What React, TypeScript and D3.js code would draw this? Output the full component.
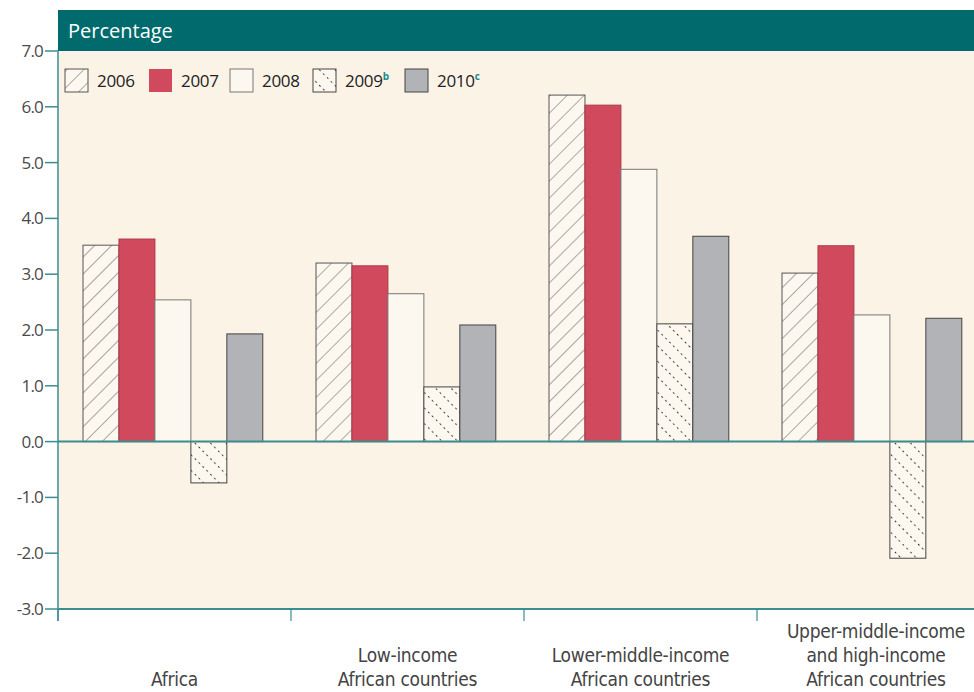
import React, { useEffect, useRef } from "react";
import * as d3 from "d3";

const categories = [
  ["Africa"],
  ["Low-income", "African countries"],
  ["Lower-middle-income", "African countries"],
  ["Upper-middle-income", "and high-income", "African countries"],
];
const years = ["2006", "2007", "2008", "2009", "2010"];
const yearSup = ["", "", "", "b", "c"];
const v2006 = [3.52, 3.2, 6.21, 3.02];
const v2007 = [3.63, 3.15, 6.03, 3.51];
const v2008 = [2.54, 2.65, 4.88, 2.27];
const v2009 = [-0.74, 0.98, 2.11, -2.09];
const v2010 = [1.93, 2.09, 3.68, 2.21];
const series = [v2006, v2007, v2008, v2009, v2010];
const yTicks = [7, 6, 5, 4, 3, 2, 1, 0, -1, -2, -3];

const fills = ["url(#hatch)", "#d0495c", "#fdf8ef", "url(#dots)", "#b2b3b7"];
const strokes = ["#555", "#b03848", "#777", "#444", "#444"];

const App = () => {
  const ref = useRef<SVGSVGElement>(null);

  useEffect(() => {
    const svg = d3.select(ref.current);
    svg.selectAll("*").remove();

    const left = 58, right = 974, top = 51, bottom = 609;
    const bg = "#fbf3e6";
    const teal = "#006a6d";
    const axisCol = "#3b8e90";

    const y = d3.scaleLinear().domain([-3, 7]).range([bottom, top]);
    const x0 = d3.scaleBand<number>().domain([0, 1, 2, 3]).range([left, left + 233 * 4]);
    const x1 = d3.scaleBand<string>().domain(years).range([0, x0.bandwidth()])
      .paddingInner(0).paddingOuter(0.74).align(0.47);

    // patterns
    const defs = svg.append("defs");
    const hatch = defs.append("pattern").attr("id", "hatch").attr("patternUnits", "userSpaceOnUse")
      .attr("width", 12).attr("height", 12).attr("patternTransform", "rotate(45)");
    hatch.append("rect").attr("width", 12).attr("height", 12).attr("fill", "#fdf8ef");
    hatch.append("line").attr("x1", 0).attr("y1", 0).attr("x2", 0).attr("y2", 12)
      .attr("stroke", "#555").attr("stroke-width", 1);
    const dots = defs.append("pattern").attr("id", "dots").attr("patternUnits", "userSpaceOnUse")
      .attr("width", 11).attr("height", 11).attr("patternTransform", "rotate(-45)");
    dots.append("rect").attr("width", 11).attr("height", 11).attr("fill", "#fdf8ef");
    dots.append("line").attr("x1", 0).attr("y1", 0).attr("x2", 0).attr("y2", 11)
      .attr("stroke", "#222").attr("stroke-width", 2).attr("stroke-dasharray", "1.8,3.7");

    // background
    svg.append("rect").attr("x", left).attr("y", top).attr("width", right - left)
      .attr("height", bottom - top).attr("fill", bg);
    // header
    svg.append("rect").attr("x", left).attr("y", 10).attr("width", right - left)
      .attr("height", top - 10).attr("fill", teal);
    svg.append("text").attr("x", 68).attr("y", 38).attr("fill", "#fff")
      .attr("font-family", "Open Sans, sans-serif").attr("font-size", 20).text("Percentage");

    // bars
    series.forEach((vals, si) => {
      svg.append("g").selectAll("rect").data(vals).enter().append("rect")
        .attr("x", (_d, i) => (x0(i) as number) + (x1(years[si]) as number))
        .attr("y", (d) => y(Math.max(0, d)))
        .attr("width", x1.bandwidth())
        .attr("height", (d) => Math.abs(y(d) - y(0)))
        .attr("fill", fills[si])
        .attr("stroke", strokes[si])
        .attr("stroke-width", 1);
    });

    // zero line
    svg.append("line").attr("x1", left).attr("x2", right).attr("y1", y(0)).attr("y2", y(0))
      .attr("stroke", axisCol).attr("stroke-width", 2);

    // y axis
    svg.append("line").attr("x1", left).attr("x2", left).attr("y1", top).attr("y2", bottom + 12)
      .attr("stroke", axisCol).attr("stroke-width", 1.5);
    const yg = svg.append("g");
    yTicks.forEach((t) => {
      yg.append("line").attr("x1", left - 13).attr("x2", left).attr("y1", y(t)).attr("y2", y(t))
        .attr("stroke", axisCol).attr("stroke-width", 1.5);
      yg.append("text").attr("x", 43).attr("y", y(t) + 6).attr("text-anchor", "end")
        .attr("fill", "#4a4a4a").attr("font-family", "Open Sans, sans-serif")
        .attr("font-size", 17).attr("letter-spacing", -0.8).text(t.toFixed(1));
    });

    // x axis
    svg.append("line").attr("x1", left).attr("x2", right).attr("y1", bottom).attr("y2", bottom)
      .attr("stroke", axisCol).attr("stroke-width", 2);
    [0, 1, 2, 3].forEach((i) => {
      const xx = x0(i) as number;
      svg.append("line").attr("x1", xx).attr("x2", xx).attr("y1", bottom).attr("y2", bottom + 12)
        .attr("stroke", axisCol).attr("stroke-width", 1.2);
      const lines = categories[i];
      const cx = xx + x0.bandwidth() / 2;
      lines.forEach((ln, li) => {
        svg.append("text").attr("x", i === 3 ? 876 : cx)
          .attr("y", 686 - (lines.length - 1 - li) * 24)
          .attr("text-anchor", "middle").attr("fill", "#444")
          .attr("font-family", "DejaVu Sans Condensed, Open Sans, sans-serif")
          .attr("font-stretch", "condensed")
          .attr("font-size", 19).attr("letter-spacing", -0.3).text(ln);
      });
    });

    // legend
    const legX = [65, 149, 230, 313, 405];
    const lg = svg.append("g");
    years.forEach((yr, i) => {
      lg.append("rect").attr("x", legX[i]).attr("y", 69).attr("width", 23).attr("height", 23)
        .attr("fill", fills[i]).attr("stroke", i === 1 ? "none" : strokes[i]);
      const t = lg.append("text").attr("x", legX[i] + 32).attr("y", 87)
        .attr("fill", "#222").attr("font-family", "Open Sans, sans-serif").attr("font-size", 17)
        .attr("letter-spacing", -0.3).text(yr);
      if (yearSup[i]) {
        t.append("tspan").attr("dy", -7).attr("font-size", 10).attr("font-weight", "bold")
          .attr("fill", "#1b8a8c").text(yearSup[i]);
      }
    });
  }, []);

  return (
    <svg ref={ref} width={974} height={692}
      style={{ position: "absolute", left: 0, top: 0, background: "#fff" }} />
  );
};

export default App;
